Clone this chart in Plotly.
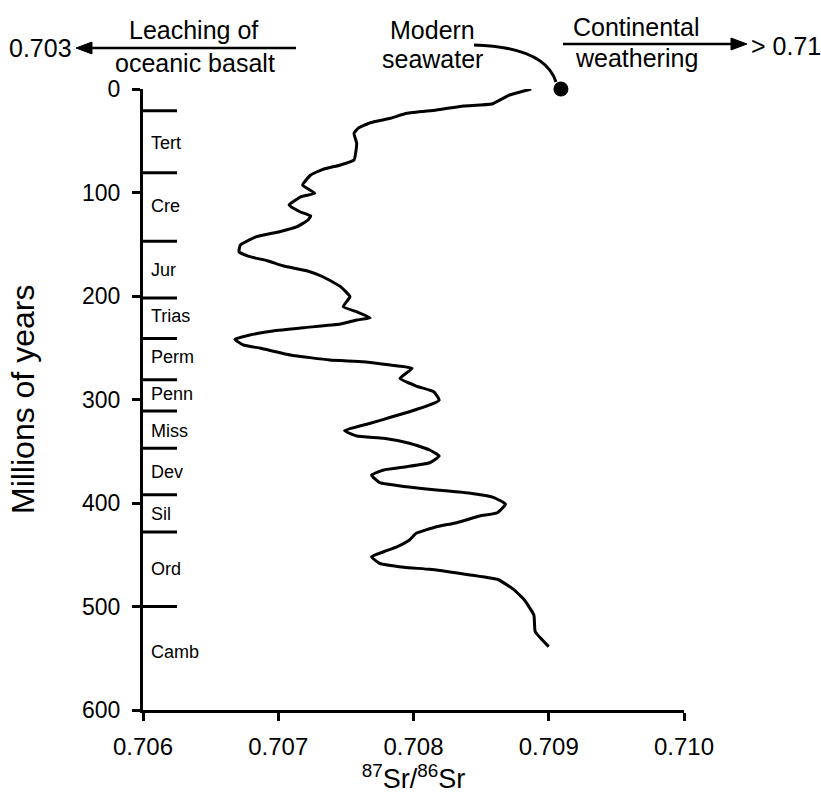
import plotly.graph_objects as go

# ---- data ----
ages = [0, 5.8, 14.5, 16.4, 20.3, 23.5, 28.3, 32.6, 38.0, 42.8, 52.5, 68.6, 73.4, 77.6, 83.1,
        92.8, 100.8, 104.1, 112.1, 118.6, 122.7, 126.6, 133.0, 137.9, 142.7, 150.7, 157.2,
        162.0, 165.9, 171.0, 175.6, 181.4, 191.0, 200.7, 210.3, 215.2, 221.0, 223.2, 227.1,
        230.6, 233.8, 237.7, 241.8, 247.3, 250.5, 257.0, 261.8, 263.5, 266.7, 269.9, 279.5,
        287.0, 292.5, 300.5, 305.3, 311.8, 317.2, 323.0, 330.1, 335.3, 337.5, 342.3, 348.8,
        354.6, 361.1, 364.9, 368.1, 373.0, 380.4, 384.3, 387.4, 390.6, 394.5, 401.0, 409.4,
        412.6, 419.0, 422.9, 429.3, 435.7, 442.2, 447.1, 451.9, 458.3, 462.1, 464.1, 468.6,
        473.7, 483.4, 493.7, 508.2, 524.3, 538.8]
sr_ratio = [0.70887, 0.70871, 0.70858, 0.70837, 0.70817, 0.70795, 0.70783, 0.70768, 0.70759,
            0.70756, 0.70758, 0.70756, 0.70746, 0.70733, 0.70724, 0.70718, 0.70727, 0.70717,
            0.70708, 0.70716, 0.70724, 0.70722, 0.70714, 0.70701, 0.70684, 0.70672, 0.70671,
            0.70679, 0.70692, 0.70704, 0.70721, 0.70733, 0.70746, 0.70753, 0.70748, 0.70758,
            0.70768, 0.70758, 0.70746, 0.70719, 0.70696, 0.70679, 0.70668, 0.70674, 0.70687,
            0.70709, 0.70738, 0.70763, 0.70783, 0.70799, 0.70790, 0.70802, 0.70815, 0.70819,
            0.70812, 0.70797, 0.70783, 0.70768, 0.70749, 0.70758, 0.70778, 0.70797, 0.70812,
            0.70819, 0.70812, 0.70795, 0.70778, 0.70769, 0.70775, 0.70795, 0.70817, 0.70842,
            0.70859, 0.70868, 0.70862, 0.70849, 0.70832, 0.70817, 0.70802, 0.70797, 0.70788,
            0.70778, 0.70769, 0.70775, 0.70793, 0.70812, 0.70837, 0.70862, 0.70874, 0.70882,
            0.70889, 0.70890, 0.70900]

modern_age = [0]
modern_sr = [0.70909]

period_boundaries = [21, 81, 147, 202, 241, 281, 311, 347, 392, 428, 500]
period_names = ["Tert", "Cre", "Jur", "Trias", "Perm", "Penn", "Miss", "Dev", "Sil", "Ord", "Camb"]
period_label_ages = [52, 113, 175, 219, 259, 295, 330, 370, 411, 464, 544]

x_ticks = [0.706, 0.707, 0.708, 0.709, 0.710]
x_tick_labels = ["0.706", "0.707", "0.708", "0.709", "0.710"]
y_ticks = [0, 100, 200, 300, 400, 500, 600]

# ---- layout geometry (pixels) ----
W, H = 821, 799
L, R, T, B = 143, 137, 89, 89
PW, PH = W - L - R, H - T - B


def px(x):
    return (x - L) / PW


def py(y):
    return (H - B - y) / PH


FONT = "Arial, Liberation Sans, Helvetica, sans-serif"

fig = go.Figure()

fig.add_trace(go.Scatter(
    x=sr_ratio, y=ages, mode="lines",
    line=dict(color="black", width=3, shape="spline", smoothing=0.4),
    cliponaxis=False, showlegend=False, hoverinfo="skip"))

fig.add_trace(go.Scatter(
    x=modern_sr, y=modern_age, mode="markers",
    marker=dict(color="black", size=15),
    cliponaxis=False, showlegend=False, hoverinfo="skip"))

shapes = []
for b in period_boundaries:
    shapes.append(dict(type="line", xref="paper", yref="y", x0=0, x1=px(177), y0=b, y1=b,
                       line=dict(color="black", width=3)))

# leader line from "Modern seawater" to the dot
shapes.append(dict(type="path", xref="paper", yref="paper",
                   path="M {:.4f},{:.4f} Q {:.4f},{:.4f} {:.4f},{:.4f}".format(
                       px(474), py(45), px(545), py(47), px(556), py(82)),
                   line=dict(color="black", width=3)))


def arrow(x_tail, x_tip, y):
    d = 1 if x_tip > x_tail else -1
    base = x_tip - d * 16
    out = [dict(type="line", xref="paper", yref="paper",
                x0=px(x_tail), x1=px(base + d * 2), y0=py(y), y1=py(y),
                line=dict(color="black", width=2.5))]
    out.append(dict(type="path", xref="paper", yref="paper",
                    path="M {:.4f},{:.4f} L {:.4f},{:.4f} L {:.4f},{:.4f} Z".format(
                        px(x_tip), py(y), px(base), py(y - 6), px(base), py(y + 6)),
                    fillcolor="black", line=dict(color="black", width=1)))
    return out


shapes += arrow(296, 76, 48)
shapes += arrow(563, 747, 44)

annotations = []
for name, a in zip(period_names, period_label_ages):
    annotations.append(dict(x=px(149), y=a, xref="paper", yref="y", text=name, showarrow=False,
                            xanchor="left", yanchor="middle",
                            font=dict(family=FONT, size=18, color="black")))

top_font = dict(family=FONT, size=25, color="black")
top_texts = [
    ("0.703", 74, 48, "right"),
    ("Leaching of", 193, 30, "center"),
    ("oceanic basalt", 195, 63, "center"),
    ("Modern", 432, 30, "center"),
    ("seawater", 432, 59, "center"),
    ("Continental", 636, 27, "center"),
    ("weathering", 636, 58, "center"),
    ("> 0.71", 749, 46, "left"),
]
for txt, x, y, anchor in top_texts:
    annotations.append(dict(x=px(x), y=py(y), xref="paper", yref="paper", text=txt,
                            showarrow=False, xanchor=anchor, yanchor="middle", font=top_font))

annotations.append(dict(x=px(23), y=py(400), xref="paper", yref="paper", text="Millions of years",
                        showarrow=False, textangle=-90, xanchor="center", yanchor="middle",
                        font=dict(family=FONT, size=32, color="black")))

fig.update_layout(
    width=W, height=H,
    margin=dict(l=L, r=R, t=T, b=B, pad=0),
    paper_bgcolor="white", plot_bgcolor="white",
    shapes=shapes, annotations=annotations,
    showlegend=False,
    xaxis=dict(range=[0.706, 0.710], tickvals=x_ticks, ticktext=x_tick_labels,
               showgrid=False, zeroline=False, showline=True, linecolor="black", linewidth=3,
               ticks="outside", ticklen=8, tickwidth=2.5, tickcolor="black",
               ticklabelstandoff=5,
               tickfont=dict(family=FONT, size=24, color="black"),
               title=dict(text="<sup>87</sup>Sr/<sup>86</sup>Sr",
                          font=dict(family=FONT, size=27, color="black"), standoff=6)),
    yaxis=dict(range=[600, 0], tickvals=y_ticks,
               showgrid=False, zeroline=False, showline=True, linecolor="black", linewidth=3,
               ticks="outside", ticklen=8, tickwidth=2.5, tickcolor="black",
               ticklabelstandoff=7,
               tickfont=dict(family=FONT, size=23, color="black")),
)

fig.write_html("out.html", config={"displayModeBar": False},
               post_script="document.body.style.margin='0';")
